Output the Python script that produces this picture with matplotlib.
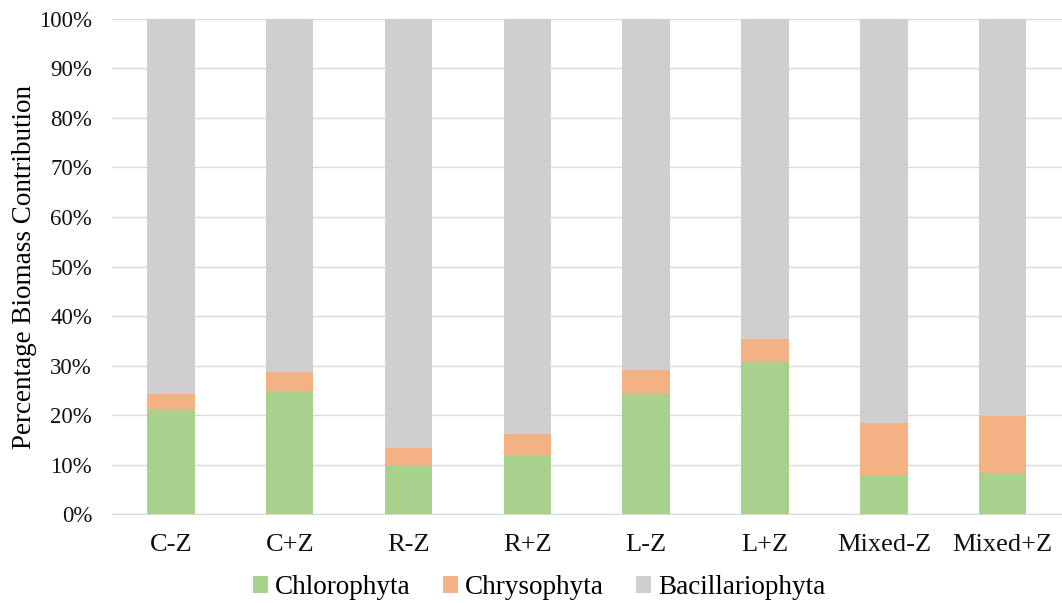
import numpy as np
import matplotlib.pyplot as plt
from matplotlib.ticker import PercentFormatter

# Treatment groups and biomass share of each algal group (%)
treatments = ['C-Z', 'C+Z', 'R-Z', 'R+Z', 'L-Z', 'L+Z', 'Mixed-Z', 'Mixed+Z']
chlorophyta = [21.1, 24.9, 9.9, 12.0, 24.2, 30.7, 7.7, 8.3]
chrysophyta = [3.1, 3.8, 3.5, 4.3, 5.0, 4.6, 10.7, 11.6]
bacillariophyta = [100 - a - b for a, b in zip(chlorophyta, chrysophyta)]

plt.rcParams['font.family'] = ['Liberation Serif', 'DejaVu Serif']

fig = plt.figure(figsize=(10.62, 6.03), dpi=100)
ax = fig.add_axes([0.105, 0.147, 0.895, 0.822])

x = np.arange(len(treatments))
w = 0.4
bottom = np.zeros(len(treatments))
series = [('Chlorophyta', chlorophyta, '#A9D18E'),
          ('Chrysophyta', chrysophyta, '#F4B183'),
          ('Bacillariophyta', bacillariophyta, '#D0CECE')]
for name, vals, col in series:
    ax.bar(x, vals, w, bottom=bottom, color=col, label=name, zorder=3)
    bottom += np.array(vals)

ax.set_xlim(-0.5, len(treatments) - 0.5)
ax.set_ylim(0, 100)
ax.set_yticks(np.arange(0, 101, 10))
ax.yaxis.set_major_formatter(PercentFormatter(decimals=0))
ax.set_xticks(x)
ax.set_xticklabels(treatments)
ax.tick_params(axis='both', length=0, colors='#111111')
ax.tick_params(axis='x', pad=14, labelsize=19)
ax.tick_params(axis='y', pad=14, labelsize=16.5)

ax.grid(axis='y', color='#D9D9D9', linewidth=1, zorder=0)
for s in ['top', 'right', 'left']:
    ax.spines[s].set_visible(False)
ax.spines['bottom'].set_color('#D9D9D9')

ax.set_ylabel('Percentage Biomass Contribution', fontsize=19.5)
ax.yaxis.set_label_coords(-0.078, 0.5)

ax.legend(loc='lower center', bbox_to_anchor=(0.45, -0.222), ncol=3, frameon=False,
          fontsize=19.5, handlelength=0.55, handleheight=0.55, handletextpad=0.25,
          columnspacing=1.2)

fig.savefig('out.png', dpi=100)
